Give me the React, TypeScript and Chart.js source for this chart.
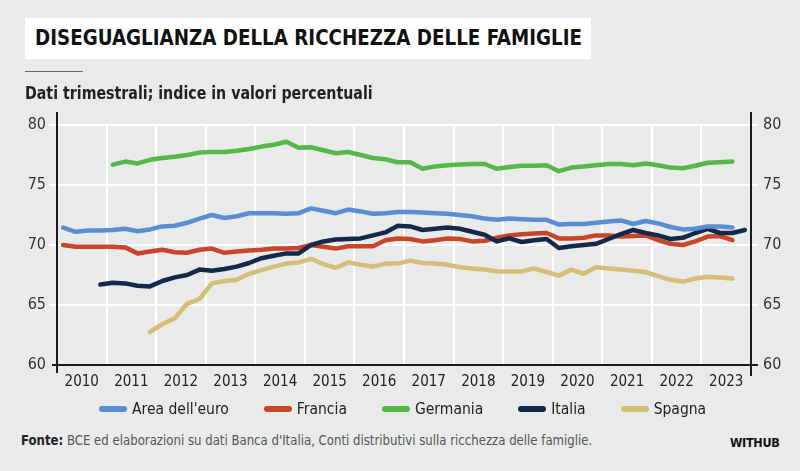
import React, { useEffect, useRef } from "react";
import { Chart, registerables } from "chart.js";

Chart.register(...registerables);

// ---- DATA (quarterly, first quarter of 2010 onward) ----
const years = [2010, 2011, 2012, 2013, 2014, 2015, 2016, 2017, 2018, 2019, 2020, 2021, 2022, 2023];
const yTicks = [60, 65, 70, 75, 80];

const areaEuro = [
  71.45, 71.1, 71.2, 71.2,
  71.25, 71.35, 71.15, 71.3,
  71.55, 71.6, 71.85, 72.2,
  72.5, 72.25, 72.4, 72.65,
  72.65, 72.65, 72.6, 72.65,
  73.05, 72.85, 72.65, 72.95,
  72.8, 72.6, 72.65, 72.75,
  72.75, 72.7, 72.65, 72.6,
  72.5, 72.4, 72.2, 72.1,
  72.2, 72.15, 72.1, 72.1,
  71.7, 71.75, 71.75, 71.85,
  71.95, 72.05, 71.75, 72.0,
  71.8, 71.5, 71.3, 71.35,
  71.55, 71.55, 71.45,
];

const francia = [
  70.0, 69.85, 69.85, 69.85,
  69.85, 69.8, 69.3, 69.45,
  69.6, 69.4, 69.35, 69.6,
  69.7, 69.35, 69.45, 69.55,
  69.6, 69.7, 69.7, 69.75,
  70.0, 69.85, 69.7, 69.9,
  69.9, 69.9, 70.4, 70.55,
  70.5, 70.3, 70.4, 70.55,
  70.5, 70.3, 70.35, 70.6,
  70.8, 70.9, 70.95, 71.0,
  70.55, 70.55, 70.6, 70.8,
  70.8, 70.7, 70.75, 70.8,
  70.4, 70.1, 70.0, 70.3,
  70.7, 70.75, 70.4,
];

const germania = [
  null, null, null, null,
  76.7, 76.95, 76.8, 77.1,
  77.25, 77.35, 77.5, 77.7,
  77.75, 77.75, 77.85, 78.0,
  78.2, 78.35, 78.6, 78.1,
  78.15, 77.9, 77.65, 77.75,
  77.5, 77.25, 77.15, 76.9,
  76.9, 76.35, 76.55, 76.65,
  76.7, 76.75, 76.75, 76.35,
  76.5, 76.6, 76.6, 76.65,
  76.15, 76.45, 76.55, 76.65,
  76.75, 76.75, 76.65, 76.8,
  76.65, 76.45, 76.4, 76.6,
  76.85, 76.9, 76.95,
];

const italia = [
  null, null, null, 66.7,
  66.85, 66.8, 66.6, 66.55,
  67.0, 67.3, 67.5, 67.95,
  67.85, 68.0, 68.2, 68.5,
  68.9, 69.1, 69.3, 69.3,
  70.0, 70.3, 70.45, 70.5,
  70.55, 70.8, 71.05, 71.6,
  71.55, 71.25, 71.35, 71.45,
  71.35, 71.1, 70.85, 70.3,
  70.55, 70.25, 70.4, 70.5,
  69.75, 69.9, 70.0, 70.1,
  70.5, 70.9, 71.25, 71.0,
  70.8, 70.5, 70.6, 71.0,
  71.35, 71.0, 71.0, 71.25,
];

const spagna = [
  null, null, null, null,
  null, null, null, 62.75,
  63.4, 63.9, 65.1, 65.5,
  66.8, 67.0, 67.1, 67.6,
  67.9, 68.2, 68.45, 68.55,
  68.85, 68.4, 68.1, 68.55,
  68.35, 68.2, 68.45, 68.45,
  68.7, 68.5, 68.45, 68.35,
  68.15, 68.05, 67.95, 67.8,
  67.8, 67.8, 68.05, 67.75,
  67.45, 67.95, 67.6, 68.15,
  68.05, 67.95, 67.85, 67.75,
  67.4, 67.1, 66.95, 67.2,
  67.35, 67.3, 67.2,
];

const seriesNames = ["Area dell'euro", "Francia", "Germania", "Italia", "Spagna"];
const seriesColors = ["#5b8dd3", "#c8442b", "#56b84a", "#15284a", "#d3bf7a"];
const seriesData = [areaEuro, francia, germania, italia, spagna];
const drawOrder = [0, 2, 3, 1, 4];

const FONT = "'Liberation Sans Narrow', 'DejaVu Sans Condensed', 'Roboto', sans-serif";

const toPoints = (arr: (number | null)[]) =>
  arr
    .map((v, i) => (v === null ? null : { x: years[0] + i / 4 + 0.125, y: v }))
    .filter((p) => p !== null) as { x: number; y: number }[];

const axisPlugin = {
  id: "axisLines",
  afterDraw(chart: any) {
    const { ctx, chartArea: a } = chart;
    ctx.save();
    ctx.strokeStyle = "#1b1b1b";
    ctx.lineWidth = 2;
    ctx.beginPath();
    ctx.moveTo(a.left, a.top - 13);
    ctx.lineTo(a.left, a.bottom + 8);
    ctx.moveTo(a.right, a.top - 13);
    ctx.lineTo(a.right, a.bottom + 11);
    ctx.moveTo(a.left - 5, a.bottom);
    ctx.lineTo(a.right + 7, a.bottom);
    ctx.stroke();
    ctx.restore();
  },
};

function ChartCanvas() {
  const ref = useRef<HTMLCanvasElement | null>(null);
  useEffect(() => {
    if (!ref.current) return;
    const gridColor = (c: any) => (c.tick && c.tick.value === 60 ? "rgba(0,0,0,0)" : "#ffffff");
    const chart = new Chart(ref.current, {
      type: "line",
      data: {
        datasets: seriesNames.map((name, i) => ({
          label: name,
          data: toPoints(seriesData[i]),
          borderColor: seriesColors[i],
          backgroundColor: seriesColors[i],
          borderWidth: 4.5,
          pointRadius: 0,
          tension: 0,
          borderCapStyle: "round",
          borderJoinStyle: "round",
          order: drawOrder[i],
        })),
      },
      options: {
        animation: false,
        responsive: false,
        layout: { padding: { top: 125, bottom: 5, left: 0, right: 0 } },
        plugins: { legend: { display: false }, tooltip: { enabled: false } },
        scales: {
          x: {
            type: "linear",
            min: years[0],
            max: years[years.length - 1] + 1,
            afterBuildTicks: (s: any) => {
              s.ticks = years.map((y) => ({ value: y + 0.5 }));
            },
            afterFit: (s: any) => {
              s.height = 30;
            },
            ticks: {
              autoSkip: false,
              maxRotation: 0,
              padding: 8,
              color: "#222",
              font: { family: FONT, size: 15 },
              callback: (v: any) => String(Math.floor(Number(v))),
            },
            grid: {
              offset: true,
              drawTicks: false,
              lineWidth: 2,
              color: (c: any) =>
                c.index === 0 || c.index === years.length ? "rgba(0,0,0,0)" : "#ffffff",
            },
            border: { display: false },
          },
          y: {
            position: "left",
            min: yTicks[0],
            max: yTicks[yTicks.length - 1],
            afterBuildTicks: (s: any) => {
              s.ticks = yTicks.map((v) => ({ value: v }));
            },
            afterFit: (s: any) => {
              s.width = 57;
            },
            ticks: { padding: 3, color: "#333", font: { family: FONT, size: 16 } },
            grid: { lineWidth: 2, tickLength: 8, color: gridColor, tickColor: gridColor },
            border: { display: false },
          },
          y2: {
            position: "right",
            min: yTicks[0],
            max: yTicks[yTicks.length - 1],
            afterBuildTicks: (s: any) => {
              s.ticks = yTicks.map((v) => ({ value: v }));
            },
            afterFit: (s: any) => {
              s.width = 49;
            },
            ticks: { padding: 5, color: "#333", font: { family: FONT, size: 16 } },
            grid: {
              drawOnChartArea: false,
              lineWidth: 2,
              tickLength: 7,
              tickColor: (c: any) => (c.tick && c.tick.value === 60 ? "#1b1b1b" : "#ffffff"),
            },
            border: { display: false },
          },
        },
      },
      plugins: [axisPlugin],
    } as any);
    return () => chart.destroy();
  }, []);
  return <canvas ref={ref} width={800} height={400} style={{ position: "absolute", left: 0, top: 0 }} />;
}

export default function App() {
  return (
    <div
      style={{
        position: "fixed",
        left: 0,
        top: 0,
        width: 800,
        height: 471,
        background: "#e9eaea",
        overflow: "hidden",
        fontFamily: FONT,
      }}
    >
      <ChartCanvas />
      <div
        style={{
          position: "absolute",
          left: 25,
          top: 18,
          width: 566,
          height: 41,
          background: "#ffffff",
        }}
      />
      <div
        style={{
          position: "absolute",
          left: 35,
          top: 18,
          height: 41,
          lineHeight: "41px",
          fontSize: 21,
          fontWeight: 700,
          color: "#111",
          whiteSpace: "nowrap",
          transform: "scaleX(0.968)",
          transformOrigin: "left center",
        }}
      >
        DISEGUAGLIANZA DELLA RICCHEZZA DELLE FAMIGLIE
      </div>
      <div style={{ position: "absolute", left: 25, top: 71, width: 58, height: 1, background: "#666" }} />
      <div
        style={{
          position: "absolute",
          left: 25,
          top: 82,
          fontSize: 18,
          fontWeight: 700,
          color: "#222",
          whiteSpace: "nowrap",
          transform: "scaleX(0.877)",
          transformOrigin: "left center",
        }}
      >
        Dati trimestrali; indice in valori percentuali
      </div>
      <div
        style={{
          position: "absolute",
          left: 99,
          top: 399,
          height: 20,
          display: "flex",
          alignItems: "center",
          gap: 35,
          whiteSpace: "nowrap",
        }}
      >
        {seriesNames.map((n, i) => (
          <div key={n} style={{ display: "flex", alignItems: "center", gap: 5 }}>
            <div style={{ width: 28, height: 6, borderRadius: 3, background: seriesColors[i] }} />
            <span style={{ fontSize: 15.5, color: "#222" }}>{n}</span>
          </div>
        ))}
      </div>
      <div
        style={{
          position: "absolute",
          left: 21,
          top: 432,
          fontSize: 14.5,
          color: "#555",
          whiteSpace: "nowrap",
          transform: "scaleX(0.9)",
          transformOrigin: "left center",
        }}
      >
        <span style={{ fontWeight: 700, color: "#222" }}>Fonte:</span> BCE ed elaborazioni su dati Banca
        d'Italia, Conti distributivi sulla ricchezza delle famiglie.
      </div>
      <div
        style={{
          position: "absolute",
          left: 730,
          top: 435,
          fontSize: 12.5,
          fontWeight: 700,
          color: "#111",
          letterSpacing: -0.3,
        }}
      >
        WITHUB
      </div>
    </div>
  );
}
